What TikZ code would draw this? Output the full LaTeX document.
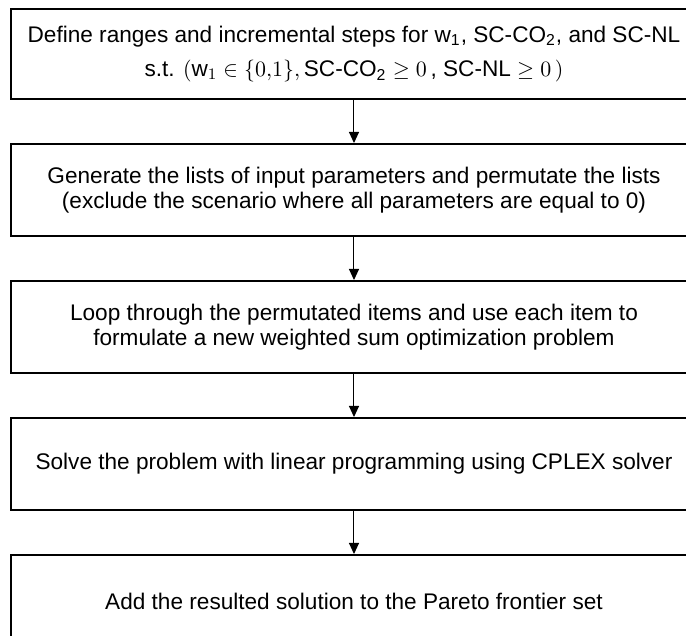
\documentclass[tikz,border=0pt]{standalone}
\usepackage{amsmath}
\usepackage{amssymb}
\usepackage{fontspec}
\setmainfont{Liberation Sans}
\usetikzlibrary{positioning,arrows.meta}

\begin{document}
\begin{tikzpicture}
[node distance=21.5pt,
every node/.style={shape=rectangle, draw, line width=1pt, align=center,
  minimum width=342.5pt, minimum height=46pt, inner sep=2pt,
  font=\fontsize{11.3}{12.2}\selectfont},
link/.style={line width=0.5pt, -{Triangle[length=5.5pt,width=5pt]}}]
\clip (-177pt,27pt) rectangle (166pt,-291pt);
\node[minimum height=45pt] (define) {Define ranges and incremental steps for w\textsubscript{1}, SC-CO\textsubscript{2}, and SC-NL\\[5pt]
  s.t. $(\mathrm{w}_1 \in \{0{,}1\},$\,SC-CO\textsubscript{2} $\geq 0$\,, SC-NL $\geq 0\,)$};
\node[below=of define] (generate) {Generate the lists of input parameters and permutate the lists\\
  (exclude the scenario where all parameters are equal to 0)};
\node[below=of generate] (loop) {Loop through the permutated items and use each item to\\
  formulate a new weighted sum optimization problem};
\node[below=of loop] (solve) {Solve the problem with linear programming using CPLEX solver};
\node[below=of solve] (add) {Add the resulted solution to the Pareto frontier set};
\draw[link] (define) -- (generate);
\draw[link] (generate) -- (loop);
\draw[link] (loop) -- (solve);
\draw[link] (solve) -- (add);
\end{tikzpicture}
\end{document}
